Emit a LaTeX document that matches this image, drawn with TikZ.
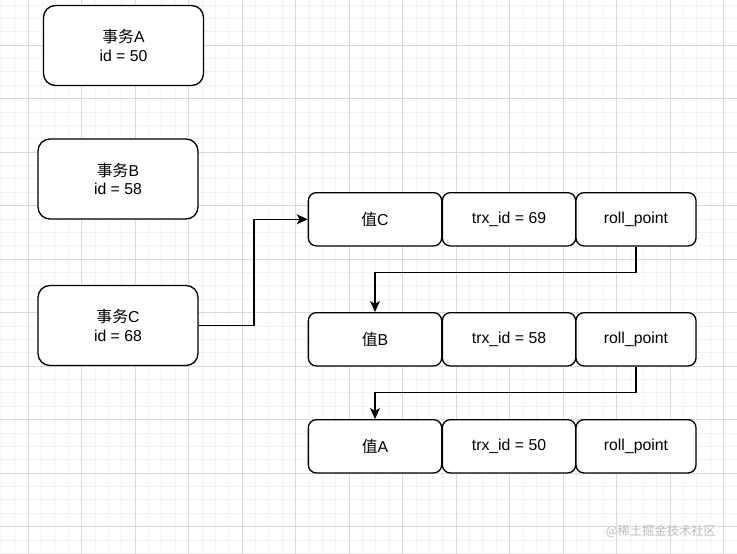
\documentclass[tikz,border=0pt]{standalone}
\usepackage{fontspec}
\setmainfont{Liberation Sans}
\newfontfamily\cjk{Noto Sans CJK SC}
\usetikzlibrary{arrows.meta, positioning}
\definecolor{GMi}{RGB}{242,242,242}
\definecolor{GMa}{RGB}{218,218,218}
\definecolor{WM}{RGB}{190,190,190}

\begin{document}
\begin{tikzpicture}[
  x=1pt, y=-1pt,
  tx/.style={draw=black, line width=1.3pt, rounded corners=12pt, fill=white,
             minimum width=160pt, minimum height=80pt, inner sep=0pt,
             align=center, font=\fontsize{15.8}{18.7}\selectfont},
  cell/.style={draw=black, line width=1.3pt, rounded corners=8pt, fill=white,
               minimum width=#1, minimum height=53.3pt, inner sep=0pt,
               font=\fontsize{15.8}{18.7}\selectfont},
  cell/.default=133.3pt,
  arr/.style={-{Stealth[length=11pt, width=10pt, inset=3pt]}, line width=1.2pt},
  minor/.style={draw=GMi, line width=0.7pt},
  major/.style={draw=GMa, line width=0.9pt}
]
\useasboundingbox (0,0) rectangle (737,554);

% Grid
\fill[white] (0,0) rectangle (737,554);
\foreach \i in {0,...,55}
  \draw[minor] ({1.25+13.375*\i},0) -- ({1.25+13.375*\i},554);
\foreach \j in {0,...,41}
  \draw[minor] (0,{4.875+13.375*\j}) -- (737,{4.875+13.375*\j});
\foreach \i in {0,...,13}
  \draw[major] ({28+53.5*\i},0) -- ({28+53.5*\i},554);
\foreach \j in {0,...,9}
  \draw[major] (0,{45+53.5*\j}) -- (737,{45+53.5*\j});

% Transactions
\node[tx] (txA) at (123.5,45.5)  {{\cjk 事务}A\\id = 50};
\node[tx] (txB) at (118,179)     {{\cjk 事务}B\\id = 58};
\node[tx] (txC) at (118,325.5)   {{\cjk 事务}C\\id = 68};

% Version chain
\node[cell]       (valC)  at (375,219.3) {{\cjk 值}C};
\node[cell]       (trxC)  at (509,219.3) {trx\_id = 69};
\node[cell=120pt] (rollC) at (636,219.3) {roll\_point};

\node[cell]       (valB)  at (375,339.3) {{\cjk 值}B};
\node[cell]       (trxB)  at (509,339.3) {trx\_id = 58};
\node[cell=120pt] (rollB) at (636,339.3) {roll\_point};

\node[cell]       (valA)  at (375,446.3) {{\cjk 值}A};
\node[cell]       (trxA)  at (509,446.3) {trx\_id = 50};
\node[cell=120pt] (rollA) at (636,446.3) {roll\_point};

\draw[arr] (txC.east) -- ++(55.3,0) |- (valC.west);
\draw[arr] (rollC.south) -- ++(0,26) -| (valB.north);
\draw[arr] (rollB.south) -- ++(0,26) -| (valA.north);

% Watermark
\node[text=WM, font=\cjk\fontsize{12.3}{14}\selectfont] (mark) at (661,531)
  {@稀土掘金技术社区};
\end{tikzpicture}
\end{document}
